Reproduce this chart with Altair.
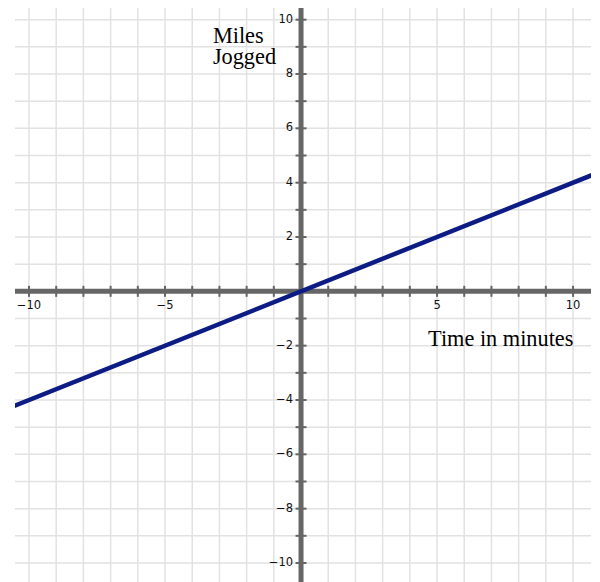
import altair as alt
import pandas as pd

# ---- data ----
x_grid = list(range(-10, 11))
y_grid = list(range(-10, 11))
x_label_vals = [-10, -5, 5, 10]
y_label_vals = [-10, -8, -6, -4, -2, 2, 4, 6, 8, 10]
line_x = [-10.6, 10.7]
line_y = [-4.24, 4.28]
title_text = ["Miles", "Jogged", "Time in minutes"]
title_x = [-3.24, -3.24, 4.67]
title_y = [9.13, 8.37, -2.01]

XD = [-10.515, 10.66]
YD = [-10.70, 10.43]
xs = alt.Scale(domain=XD, nice=False, zero=False)
ys = alt.Scale(domain=YD, nice=False, zero=False)

AXIS_GRAY = "#666666"
GRID_GRAY = "#e2e2e2"


def lab(v):
    return str(v).replace("-", "\u2212")


line_df = pd.DataFrame({"x": line_x, "y": line_y})
zero_df = pd.DataFrame({"v": [0]})
xg_df = pd.DataFrame({"v": x_grid})
yg_df = pd.DataFrame({"v": y_grid})
xt_df = pd.DataFrame({"x": x_grid, "y": [0] * len(x_grid)})
yt_df = pd.DataFrame({"x": [0] * len(y_grid), "y": y_grid})
xl_df = pd.DataFrame({"x": x_label_vals, "y": [0] * len(x_label_vals),
                      "t": [lab(v) for v in x_label_vals]})
yl_df = pd.DataFrame({"x": [0] * len(y_label_vals), "y": y_label_vals,
                      "t": [lab(v) for v in y_label_vals]})
tt_df = pd.DataFrame({"x": title_x, "y": title_y, "t": title_text})

vgrid = alt.Chart(xg_df).mark_rule(strokeWidth=1.5, color=GRID_GRAY).encode(
    x=alt.X("v:Q", scale=xs, axis=None)
)
hgrid = alt.Chart(yg_df).mark_rule(strokeWidth=1.5, color=GRID_GRAY).encode(
    y=alt.Y("v:Q", scale=ys, axis=None)
)

xaxis_rule = alt.Chart(zero_df).mark_rule(strokeWidth=5, color=AXIS_GRAY).encode(
    y=alt.Y("v:Q", scale=ys, axis=None)
)
yaxis_rule = alt.Chart(zero_df).mark_rule(strokeWidth=5, color=AXIS_GRAY).encode(
    x=alt.X("v:Q", scale=xs, axis=None)
)

xticks = alt.Chart(xt_df).mark_tick(orient="vertical", size=11, thickness=2,
                                    color=AXIS_GRAY, opacity=1).encode(
    x=alt.X("x:Q", scale=xs, axis=None),
    y=alt.Y("y:Q", scale=ys, axis=None),
)
yticks = alt.Chart(yt_df).mark_tick(orient="horizontal", size=11, thickness=2,
                                    color=AXIS_GRAY, opacity=1).encode(
    x=alt.X("x:Q", scale=xs, axis=None),
    y=alt.Y("y:Q", scale=ys, axis=None),
)

line = alt.Chart(line_df).mark_line(color="#0c1c84", strokeWidth=4.5, clip=True).encode(
    x=alt.X("x:Q", scale=xs, axis=None),
    y=alt.Y("y:Q", scale=ys, axis=None),
)

xlabels = alt.Chart(xl_df).mark_text(font="DejaVu Sans", fontSize=11.5, color="#111111",
                                     baseline="alphabetic", align="center", dy=18).encode(
    x=alt.X("x:Q", scale=xs, axis=None),
    y=alt.Y("y:Q", scale=ys, axis=None),
    text="t:N",
)
ylabels = alt.Chart(yl_df).mark_text(font="DejaVu Sans", fontSize=11.5, color="#111111",
                                     baseline="middle", align="right", dx=-8).encode(
    x=alt.X("x:Q", scale=xs, axis=None),
    y=alt.Y("y:Q", scale=ys, axis=None),
    text="t:N",
)

titles = alt.Chart(tt_df).mark_text(font="Liberation Serif", fontSize=22.3, color="#000000",
                                    baseline="alphabetic", align="left").encode(
    x=alt.X("x:Q", scale=xs, axis=None),
    y=alt.Y("y:Q", scale=ys, axis=None),
    text="t:N",
)

chart = alt.layer(
    vgrid, hgrid, xaxis_rule, yaxis_rule, xticks, yticks, line, xlabels, ylabels, titles
).properties(
    width=576,
    height=574,
    autosize=alt.AutoSizeParams(type="none"),
    padding={"left": 7, "top": 0, "right": 0, "bottom": 0},
    background="white",
).configure_view(stroke=None)

chart.save("out.html", embed_options={"renderer": "svg", "actions": False})
